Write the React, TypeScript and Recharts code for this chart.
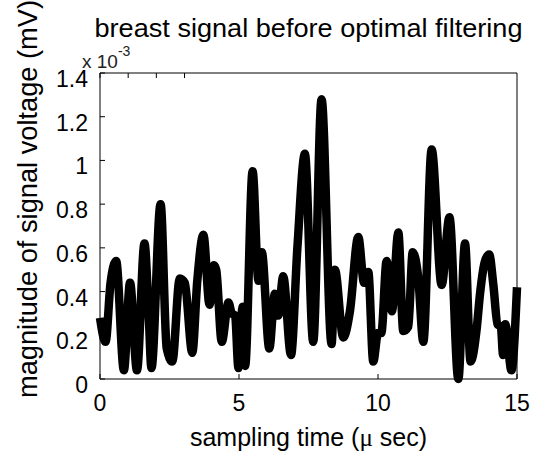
import React from 'react';
import { LineChart, Line, XAxis, YAxis, Label } from 'recharts';

// sampling time in microseconds
const times = [
  0, 0.2, 0.38, 0.58, 0.86, 1.08, 1.33, 1.6, 1.75, 1.85, 2.18, 2.4, 2.6, 2.87, 3.05,
  3.32, 3.5, 3.72, 3.94, 4.1, 4.18, 4.38, 4.62, 4.74, 4.86, 4.98, 5.13, 5.22, 5.49,
  5.7, 5.82, 6.09, 6.29, 6.41, 6.59, 6.87, 7.1, 7.37, 7.67, 7.97, 8.33, 8.45, 8.75,
  8.99, 9.29, 9.5, 9.65, 9.83, 10.0, 10.12, 10.31, 10.5, 10.73, 10.91, 11.09, 11.25,
  11.45, 11.63, 11.93, 12.29, 12.57, 12.89, 13.13, 13.33, 13.55, 13.67, 13.85, 14.0,
  14.15, 14.3, 14.42, 14.5, 14.58, 14.8, 15.0,
];

// signal magnitude, in units of 1e-3 mV (axis shows x 10^-3)
const signal = [
  0.28, 0.17, 0.44, 0.54, 0.04, 0.44, 0.04, 0.62, 0.3, 0.05, 0.8, 0.14, 0.08, 0.46, 0.44,
  0.12, 0.45, 0.66, 0.34, 0.52, 0.5, 0.17, 0.35, 0.3, 0.29, 0.05, 0.33, 0.06, 0.95,
  0.45, 0.58, 0.14, 0.39, 0.29, 0.47, 0.11, 0.6, 1.03, 0.17, 1.28, 0.16, 0.5, 0.19,
  0.31, 0.65, 0.44, 0.49, 0.08, 0.21, 0.21, 0.54, 0.31, 0.67, 0.22, 0.24, 0.58,
  0.46, 0.17, 1.05, 0.43, 0.74, 0.0, 0.62, 0.08, 0.23, 0.39, 0.54, 0.57,
  0.43, 0.25, 0.24, 0.11, 0.25, 0.04, 0.42,
];

const xTicks = [0, 5, 10, 15];
const yTicks = [0, 0.2, 0.4, 0.6, 0.8, 1, 1.2, 1.4];

const title = 'breast signal before optimal filtering';
const xLabel = 'sampling time (';
const yLabel = 'magnitude of signal voltage (mV)';

const data = times.map((t, i) => ({ t, v: signal[i] }));

const font = '"Liberation Sans", Arial, sans-serif';
const TICK = 5; // inward tick length
const GAP_X = 14; // axis to top of x tick label
const GAP_Y = 12; // axis to end of y tick label

// matlab-style ticks: short marks pointing into the plot box
const BottomTick = (props: any) => {
  const { x, y, payload } = props;
  const axisY = y - GAP_X;
  return (
    <g>
      <line x1={x} x2={x} y1={axisY} y2={axisY - TICK} stroke="#000" />
      <text x={x} y={y + 18} textAnchor="middle" fontSize={23} fontFamily={font} fill="#000">
        {payload.value}
      </text>
    </g>
  );
};

const LeftTick = (props: any) => {
  const { x, y, payload } = props;
  const axisX = x + GAP_Y;
  return (
    <g>
      <line x1={axisX} x2={axisX + TICK} y1={y} y2={y} stroke="#000" />
      <text x={x} y={y + 14} textAnchor="end" fontSize={23} fontFamily={font} fill="#000">
        {payload.value}
      </text>
    </g>
  );
};

const TopTick = (props: any) => {
  const { x, y } = props;
  return <line x1={x} x2={x} y1={y} y2={y + TICK} stroke="#000" />;
};

const RightTick = (props: any) => {
  const { x, y } = props;
  return <line x1={x} x2={x - TICK} y1={y} y2={y} stroke="#000" />;
};

export default function App() {
  return (
    <div style={{ position: 'absolute', left: 0, top: 0, width: 546, height: 457, background: '#fff' }}>
      <LineChart width={546} height={457} data={data} margin={{ top: 0, right: 0, bottom: 0, left: 0 }}>
        <XAxis
          dataKey="t"
          type="number"
          domain={[0, 15]}
          ticks={xTicks}
          height={78}
          stroke="#000"
          tickLine={false}
          tickSize={0}
          tickMargin={GAP_X}
          tick={<BottomTick />}
        >
          <Label
            content={({ viewBox }: any) => (
              <text
                x={viewBox.x + viewBox.width / 2}
                y={446}
                textAnchor="middle"
                fontSize={25}
                fontFamily={font}
                fill="#000"
              >
                {xLabel}
                <tspan fontFamily='"Liberation Serif", serif'>μ</tspan>
                {' sec)'}
              </text>
            )}
          />
        </XAxis>
        <XAxis
          xAxisId="top"
          orientation="top"
          type="number"
          domain={[0, 15]}
          ticks={xTicks}
          height={73}
          stroke="#000"
          tickLine={false}
          tickSize={0}
          tickMargin={0}
          tick={<TopTick />}
        >
          <Label
            content={({ viewBox }: any) => (
              <g fontFamily={font} fill="#000">
                <text
                  x={viewBox.x + viewBox.width / 2}
                  y={37}
                  textAnchor="middle"
                  fontSize={26}
                  textLength={428}
                  lengthAdjust="spacingAndGlyphs"
                >
                  {title}
                </text>
                <text x={82} y={68} fontSize={19} fill="#222">
                  x 10
                  <tspan dy={-12} fontSize={14}>-3</tspan>
                </text>
              </g>
            )}
          />
        </XAxis>
        <YAxis
          yAxisId="left"
          type="number"
          domain={[0, 1.4]}
          ticks={yTicks}
          width={100}
          stroke="#000"
          tickLine={false}
          tickSize={0}
          tickMargin={GAP_Y}
          tick={<LeftTick />}
        >
          <Label
            content={() => (
              <text
                x={37}
                y={199}
                transform="rotate(-90 37 199)"
                textAnchor="middle"
                fontSize={27}
                fontFamily={font}
                fill="#000"
                textLength={398}
                lengthAdjust="spacingAndGlyphs"
              >
                {yLabel}
              </text>
            )}
          />
        </YAxis>
        <YAxis
          yAxisId="right"
          orientation="right"
          type="number"
          domain={[0, 1.4]}
          ticks={yTicks}
          width={29}
          stroke="#000"
          tickLine={false}
          tickSize={0}
          tickMargin={0}
          tick={<RightTick />}
        />
        <Line
          yAxisId="left"
          type="monotone"
          dataKey="v"
          stroke="#000"
          strokeWidth={8.5}
          strokeLinejoin="round"
          dot={false}
          isAnimationActive={false}
        />
      </LineChart>
    </div>
  );
}
